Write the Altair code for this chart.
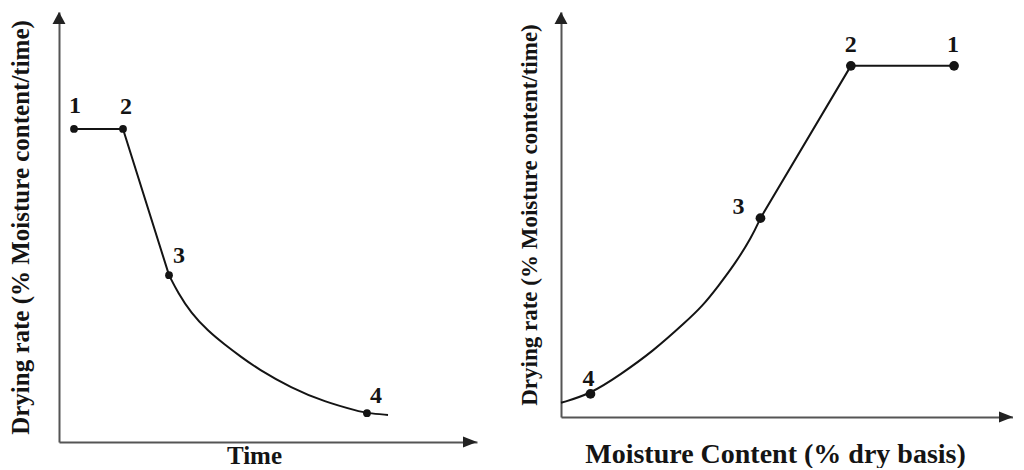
import altair as alt
import pandas as pd

# ---------------- data ----------------
# Left panel: drying rate vs time
left_line_time = [0.359, 1.531, 2.632]
left_line_rate = [7.28, 7.28, 3.88]
left_curve_time = [2.632, 2.847, 3.158, 3.565, 3.971, 4.354, 4.761, 5.550, 6.364, 7.153, 7.368, 7.871]
left_curve_rate = [3.88, 3.47, 3.00, 2.58, 2.26, 1.98, 1.70, 1.26, 0.93, 0.72, 0.67, 0.63]
left_pt_labels = ["1", "2", "3", "4"]
left_pt_time = [0.359, 1.531, 2.632, 7.368]
left_pt_rate = [7.28, 7.28, 3.88, 0.67]

# Right panel: drying rate vs moisture content
right_curve_mc = [0.0, 0.652, 1.304, 2.043, 2.761, 3.130, 3.478, 3.848, 4.217, 4.413]
right_curve_rate = [0.35, 0.57, 1.04, 1.63, 2.35, 2.74, 3.23, 3.78, 4.44, 4.91]
right_line_mc = [4.413, 6.413, 8.696]
right_line_rate = [4.91, 8.67, 8.67]
right_pt_labels = ["4", "3", "2", "1"]
right_pt_mc = [0.652, 4.413, 6.413, 8.696]
right_pt_rate = [0.57, 4.91, 8.67, 8.67]

X_DOMAIN = [0, 10]
Y_DOMAIN = [0, 10]

FONT = "Liberation Serif"
INK = "#141414"
AXIS_INK = "#555555"
UP_ARROW = "M0,0L1.08,2L-1.08,2Z"
RIGHT_ARROW = "M0,0L-2.33,0.92L-2.33,-0.92Z"


def panel(curve_x, curve_y, line_x, line_y, pt_lab, pt_x, pt_y, offsets,
          xtitle, ytitle, w, h, xtitle_size, ytitle_size, xpad, ypad, xtitle_x,
          dot_size):
    curve_df = pd.DataFrame({"x": curve_x, "y": curve_y})
    line_df = pd.DataFrame({"x": line_x, "y": line_y})
    pts_df = pd.DataFrame({"lab": pt_lab, "x": pt_x, "y": pt_y})

    xs = alt.Scale(domain=X_DOMAIN, nice=False, zero=False)
    ys = alt.Scale(domain=Y_DOMAIN, nice=False, zero=False)
    xax = alt.Axis(title=xtitle, labels=False, ticks=False, grid=False,
                   domainColor=AXIS_INK, domainWidth=2,
                   titleFont=FONT, titleFontSize=xtitle_size, titleFontWeight="bold",
                   titleColor=INK, titlePadding=xpad, titleX=xtitle_x, titleAlign="center")
    yax = alt.Axis(title=ytitle, labels=False, ticks=False, grid=False,
                   domainColor=AXIS_INK, domainWidth=2,
                   titleFont=FONT, titleFontSize=ytitle_size, titleFontWeight="bold",
                   titleColor=INK, titlePadding=ypad)

    base_curve = alt.Chart(curve_df).mark_line(
        color=INK, strokeWidth=2, interpolate="basis").encode(
        x=alt.X("x:Q", scale=xs, axis=xax), y=alt.Y("y:Q", scale=ys, axis=yax))
    base_line = alt.Chart(line_df).mark_line(
        color=INK, strokeWidth=2, interpolate="linear").encode(
        x=alt.X("x:Q", scale=xs), y=alt.Y("y:Q", scale=ys))
    dots = alt.Chart(pts_df).mark_circle(size=dot_size, color=INK, opacity=1).encode(
        x=alt.X("x:Q", scale=xs), y=alt.Y("y:Q", scale=ys))

    arrow_up = alt.Chart(pd.DataFrame({"a": [0]})).mark_point(
        shape=UP_ARROW, size=144, filled=True, color="#222222", opacity=1, strokeWidth=0).encode(
        x=alt.X(datum=X_DOMAIN[0], scale=xs),
        y=alt.Y(datum=Y_DOMAIN[1], scale=ys))
    arrow_right = alt.Chart(pd.DataFrame({"a": [0]})).mark_point(
        shape=RIGHT_ARROW, size=144, filled=True, color="#222222", opacity=1, strokeWidth=0).encode(
        x=alt.X(datum=X_DOMAIN[1], scale=xs),
        y=alt.Y(datum=Y_DOMAIN[0], scale=ys))

    texts = []
    for lab, (dx, dy) in offsets.items():
        texts.append(
            alt.Chart(pts_df).transform_filter(alt.datum.lab == lab).mark_text(
                font=FONT, fontSize=24, fontWeight="bold", color=INK,
                align="center", baseline="alphabetic", dx=dx, dy=dy).encode(
                x=alt.X("x:Q", scale=xs), y=alt.Y("y:Q", scale=ys), text="lab:N"))

    return alt.layer(base_curve, base_line, dots, arrow_up, arrow_right, *texts).properties(
        width=w, height=h)


left = panel(left_curve_time, left_curve_rate, left_line_time, left_line_rate,
             left_pt_labels, left_pt_time, left_pt_rate,
             {"1": (1, -16), "2": (3, -15), "3": (10, -12), "4": (9, -10)},
             "Time", "Drying rate (% Moisture content/time)",
             418, 430, 25, 25, 1, 26, 195, 60)

right = panel(right_curve_mc, right_curve_rate, right_line_mc, right_line_rate,
              right_pt_labels, right_pt_mc, right_pt_rate,
              {"4": (-2, -8), "3": (-22, -4), "2": (0, -14), "1": (-1, -14)},
              "Moisture Content (% dry basis)", "Drying rate (% Moisture content/time)",
              452, 405, 28, 23, 23, 20, 214, 95)

chart = alt.hconcat(left, right, spacing=84, bounds="flush").properties(
    padding={"left": 0, "top": 4, "right": 0, "bottom": 0},
    background="white",
).configure_view(stroke=None)

chart.save("out.html", embed_options={"renderer": "svg", "actions": False})
